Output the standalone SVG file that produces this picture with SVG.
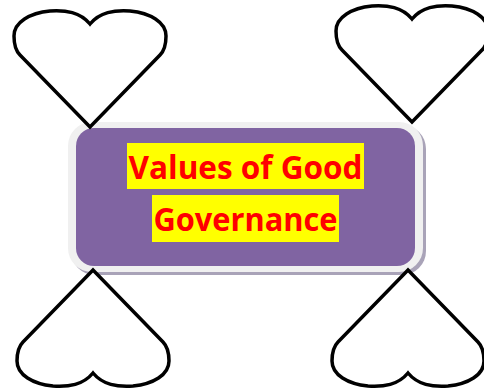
<svg xmlns="http://www.w3.org/2000/svg" width="484" height="392" viewBox="0 0 484 392">
<style>
.heart{fill:#fff;stroke:#000;stroke-width:3.5;stroke-linejoin:miter}
.hl{fill:#ffff00}
.t{font-family:"Open Sans","Liberation Sans",sans-serif;font-weight:bold;fill:#ff0000;font-size:33px}
</style>
<defs>
<path id="h" d="M90,24 C80,12 66,10 50,11 C30,13 14,22 14,36 C14,45 16,51 20,55 L90,127 L160,55 C164,51 166,45 166,36 C166,22 150,13 130,11 C114,10 100,12 90,24 Z"/>
</defs>
<rect width="484" height="392" fill="#fff"/>
<g id="center">
<rect x="71" y="125" width="355" height="150" rx="24" fill="#a9a3b8"/>
<rect x="68" y="122" width="355" height="150" rx="24" fill="#f0f0f0"/>
<rect x="76" y="128" width="339" height="138" rx="18" fill="#8064a2"/>
<rect class="hl" x="127" y="143" width="237" height="46"/>
<rect class="hl" x="152" y="195" width="187" height="47"/>
<text class="t" x="245.5" y="179" text-anchor="middle" textLength="234" lengthAdjust="spacingAndGlyphs">Values of Good</text>
<text class="t" x="245.5" y="231" text-anchor="middle" textLength="184" lengthAdjust="spacingAndGlyphs">Governance</text>
</g>
<g id="heart-tl"><use href="#h" class="heart"/></g>
<g id="heart-tr"><use href="#h" class="heart" transform="translate(322,-5)"/></g>
<g id="heart-bl"><use href="#h" class="heart" transform="translate(3,397) scale(1,-1)"/></g>
<g id="heart-br"><use href="#h" class="heart" transform="translate(318,397) scale(1,-1)"/></g>
<g id="connectors"></g>
</svg>
